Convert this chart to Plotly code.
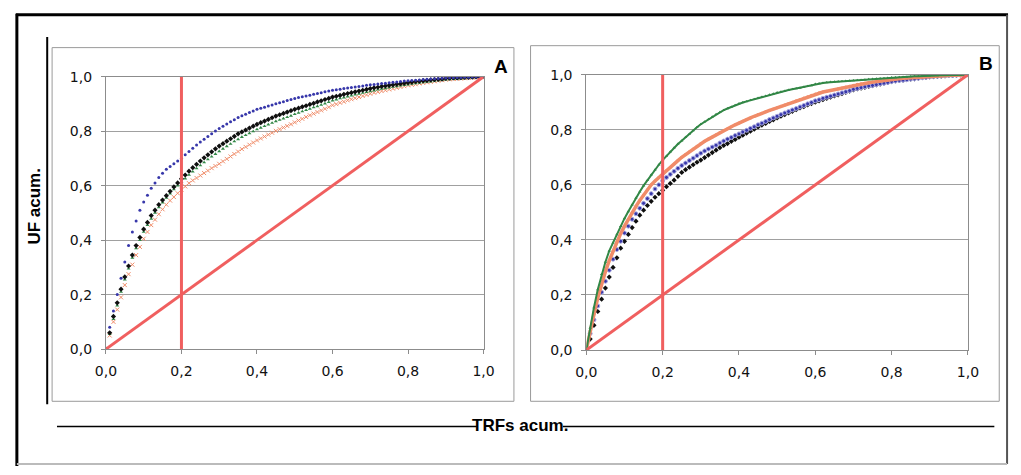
import plotly.graph_objects as go

# Cumulative TRFs fraction (x) shared by all curves
trf_acum = [0.00, 0.01, 0.02, 0.03, 0.04, 0.05, 0.06, 0.07, 0.08, 0.09,
            0.10, 0.11, 0.12, 0.13, 0.14, 0.15, 0.16, 0.17, 0.18, 0.19,
            0.20, 0.21, 0.22, 0.23, 0.24, 0.25, 0.26, 0.27, 0.28, 0.29,
            0.30, 0.31, 0.32, 0.33, 0.34, 0.35, 0.36, 0.37, 0.38, 0.39,
            0.40, 0.41, 0.42, 0.43, 0.44, 0.45, 0.46, 0.47, 0.48, 0.49,
            0.50, 0.51, 0.52, 0.53, 0.54, 0.55, 0.56, 0.57, 0.58, 0.59,
            0.60, 0.61, 0.62, 0.63, 0.64, 0.65, 0.66, 0.67, 0.68, 0.69,
            0.70, 0.71, 0.72, 0.73, 0.74, 0.75, 0.76, 0.77, 0.78, 0.79,
            0.80, 0.81, 0.82, 0.83, 0.84, 0.85, 0.86, 0.87, 0.88, 0.89,
            0.90, 0.91, 0.92, 0.93, 0.94, 0.95, 0.96, 0.97, 0.98, 0.99, 1.00]

# ---- Panel A (cumulative UF) ----
a_blue = [0, .08, .14, .20, .26, .32, .38, .43, .47, .51,
          .54, .565, .59, .61, .63, .645, .66, .67, .68, .69,
          .70, .713, .725, .737, .749, .76, .77, .78, .79, .80,
          .81, .818, .826, .834, .842, .85, .856, .862, .868, .874,
          .88, .884, .888, .892, .896, .90, .904, .908, .912, .916,
          .92, .923, .926, .929, .932, .935, .938, .941, .944, .947,
          .95, .952, .954, .956, .958, .960, .962, .964, .966, .968,
          .97, .9715, .973, .9745, .976, .9775, .979, .9805, .982, .9835,
          .985, .986, .987, .988, .989, .990, .991, .992, .993, .994,
          .995, .9955, .996, .9965, .997, .9975, .998, .9985, .999, .9995, 1.0]
a_black = [0, .06, .12, .17, .22, .265, .305, .345, .38, .41,
           .44, .465, .49, .51, .53, .547, .563, .579, .595, .61,
           .625, .639, .653, .666, .678, .69, .702, .713, .724, .735,
           .745, .754, .763, .772, .781, .79, .797, .804, .811, .818,
           .825, .831, .837, .843, .849, .855, .86, .865, .87, .875,
           .88, .884, .889, .893, .898, .902, .907, .911, .916, .920,
           .925, .928, .931, .935, .938, .941, .944, .947, .950, .953,
           .956, .959, .961, .964, .966, .968, .970, .972, .974, .976,
           .978, .980, .982, .983, .985, .986, .988, .989, .990, .991,
           .993, .994, .995, .995, .996, .997, .997, .998, .999, .999, 1.0]
a_green = [0, .055, .11, .16, .21, .255, .295, .335, .37, .40,
           .43, .455, .478, .50, .52, .538, .555, .571, .586, .60,
           .613, .626, .639, .651, .663, .674, .685, .696, .706, .716,
           .726, .735, .744, .753, .762, .77, .778, .785, .792, .799,
           .806, .812, .818, .824, .830, .836, .841, .846, .851, .856,
           .862, .867, .872, .877, .882, .887, .891, .896, .901, .906,
           .912, .916, .920, .923, .927, .930, .934, .937, .940, .943,
           .946, .949, .952, .955, .957, .960, .962, .964, .967, .969,
           .971, .973, .975, .977, .979, .981, .982, .984, .986, .987,
           .989, .990, .991, .992, .993, .994, .995, .996, .997, .998, 1.0]
a_orange = [0, .05, .10, .145, .19, .235, .275, .31, .345, .375,
            .405, .43, .455, .475, .495, .513, .53, .545, .558, .572,
            .585, .597, .609, .619, .628, .637, .646, .655, .664, .672,
            .68, .689, .698, .707, .716, .725, .734, .742, .750, .758,
            .766, .773, .780, .787, .794, .801, .807, .813, .819, .825,
            .832, .839, .845, .852, .858, .864, .870, .876, .882, .888,
            .895, .899, .904, .908, .913, .917, .921, .925, .929, .933,
            .937, .941, .944, .947, .950, .953, .956, .959, .962, .965,
            .968, .970, .972, .975, .977, .979, .981, .983, .985, .987,
            .989, .990, .991, .992, .993, .994, .995, .996, .997, .998, 1.0]

# ---- Panel B (cumulative UF) ----
b_green = [0, .08, .155, .22, .275, .32, .36, .39, .42, .45,
           .478, .503, .528, .552, .575, .597, .617, .637, .655, .673,
           .69, .705, .72, .735, .748, .76, .773, .785, .797, .809,
           .82, .829, .838, .847, .856, .864, .871, .877, .883, .889,
           .895, .899, .903, .907, .911, .915, .919, .923, .927, .931,
           .935, .938, .941, .944, .947, .950, .952, .955, .958, .961,
           .966, .968, .970, .972, .973, .974, .975, .976, .977, .978,
           .979, .980, .981, .982, .983, .984, .985, .986, .987, .988,
           .99, .990, .991, .992, .992, .993, .994, .994, .995, .996,
           .996, .997, .997, .998, .998, .998, .999, .999, .999, 1.0, 1.0]
b_orange = [0, .07, .13, .19, .24, .285, .325, .36, .393, .423,
            .45, .475, .50, .522, .543, .563, .582, .60, .614, .627,
            .64, .652, .664, .676, .688, .70, .71, .72, .73, .74,
            .75, .758, .766, .774, .782, .79, .797, .804, .811, .818,
            .825, .831, .837, .843, .849, .855, .86, .865, .87, .875,
            .88, .885, .890, .895, .900, .905, .910, .915, .920, .925,
            .93, .934, .937, .940, .943, .946, .949, .952, .955, .958,
            .962, .965, .967, .969, .971, .973, .975, .977, .979, .981,
            .984, .985, .986, .987, .988, .989, .990, .991, .992, .993,
            .995, .995, .996, .996, .997, .997, .998, .998, .999, .999, 1.0]
b_blue = [0, .06, .11, .16, .21, .25, .29, .33, .365, .395,
          .425, .45, .475, .495, .515, .533, .55, .568, .585, .60,
          .615, .627, .638, .649, .66, .67, .679, .688, .697, .706,
          .715, .723, .730, .737, .744, .752, .759, .766, .772, .779,
          .785, .792, .798, .805, .811, .818, .824, .830, .837, .843,
          .849, .855, .861, .866, .872, .877, .883, .888, .894, .899,
          .905, .909, .914, .918, .922, .926, .930, .934, .938, .942,
          .947, .950, .953, .956, .959, .961, .964, .967, .969, .972,
          .975, .977, .979, .980, .982, .984, .985, .987, .989, .990,
          .992, .993, .994, .995, .996, .997, .997, .998, .999, .999, 1.0]
b_black = [0, .04, .09, .14, .185, .225, .265, .30, .335, .37,
           .395, .42, .445, .468, .49, .508, .525, .54, .555, .568,
           .58, .593, .605, .617, .631, .645, .655, .664, .673, .682,
           .69, .699, .708, .717, .726, .735, .743, .750, .758, .765,
           .773, .780, .788, .795, .802, .81, .817, .823, .830, .836,
           .843, .849, .855, .861, .867, .873, .879, .884, .890, .895,
           .90, .905, .909, .914, .918, .923, .927, .931, .936, .940,
           .945, .948, .951, .954, .957, .960, .963, .966, .969, .972,
           .975, .977, .979, .980, .982, .984, .985, .987, .989, .990,
           .992, .993, .994, .995, .996, .997, .997, .998, .999, .999, 1.0]

# Reference lines: equality diagonal and the 20 % TRFs cut
diag_x = [0.0, 1.0]
diag_y = [0.0, 1.0]
cut_x = [0.2, 0.2]
cut_y = [0.0, 1.01]

tick_vals = [0.0, 0.2, 0.4, 0.6, 0.8, 1.0]
tick_text = ["0,0", "0,2", "0,4", "0,6", "0,8", "1,0"]
panel_labels = ["A", "B"]
x_title = "TRFs acum."
y_title = "UF acum."

W, H = 1021, 475
RED = "rgb(240,95,95)"
BLUE = "rgb(55,55,170)"
GREEN = "rgb(50,135,70)"
ORANGE = "rgb(240,140,105)"
BLACK = "rgb(15,15,15)"

fig = go.Figure()


def px_x(p):
    return p / W


def px_y(p):
    return 1 - p / H


# Panel A traces
fig.add_trace(go.Scatter(x=trf_acum, y=a_orange, mode="markers", xaxis="x", yaxis="y",
                         marker=dict(symbol="x-thin", size=4, line=dict(color=ORANGE, width=1), color=ORANGE)))
fig.add_trace(go.Scatter(x=trf_acum, y=a_green, mode="markers", xaxis="x", yaxis="y",
                         marker=dict(symbol="triangle-up", size=3.5, color=GREEN)))
fig.add_trace(go.Scatter(x=trf_acum, y=a_black, mode="markers", xaxis="x", yaxis="y",
                         marker=dict(symbol="diamond", size=4, color=BLACK)))
fig.add_trace(go.Scatter(x=trf_acum, y=a_blue, mode="markers", xaxis="x", yaxis="y",
                         marker=dict(symbol="circle", size=3, color=BLUE)))
fig.add_trace(go.Scatter(x=cut_x, y=cut_y, mode="lines", xaxis="x", yaxis="y",
                         line=dict(color=RED, width=3), cliponaxis=False))
fig.add_trace(go.Scatter(x=diag_x, y=diag_y, mode="lines", xaxis="x", yaxis="y",
                         line=dict(color=RED, width=3), cliponaxis=False))

# Panel B traces
fig.add_trace(go.Scatter(x=trf_acum, y=b_black, mode="markers", xaxis="x2", yaxis="y2",
                         marker=dict(symbol="diamond", size=4, color=BLACK)))
fig.add_trace(go.Scatter(x=trf_acum, y=b_blue, mode="markers", xaxis="x2", yaxis="y2",
                         marker=dict(symbol="circle", size=4, color=BLUE,
                                     line=dict(color="rgb(170,170,225)", width=1))))
fig.add_trace(go.Scatter(x=trf_acum, y=b_orange, mode="lines+markers", xaxis="x2", yaxis="y2",
                         line=dict(color=ORANGE, width=3.5),
                         marker=dict(symbol="circle", size=3, color=ORANGE)))
fig.add_trace(go.Scatter(x=trf_acum, y=b_green, mode="lines+markers", xaxis="x2", yaxis="y2",
                         line=dict(color=GREEN, width=2),
                         marker=dict(symbol="triangle-up", size=3, color=GREEN)))
fig.add_trace(go.Scatter(x=cut_x, y=cut_y, mode="lines", xaxis="x2", yaxis="y2",
                         line=dict(color=RED, width=3), cliponaxis=False))
fig.add_trace(go.Scatter(x=diag_x, y=diag_y, mode="lines", xaxis="x2", yaxis="y2",
                         line=dict(color=RED, width=3), cliponaxis=False))

tick_font = dict(family="DejaVu Sans, Verdana", size=14, color="#111")
axis_common = dict(range=[0, 1], tickvals=tick_vals, ticktext=tick_text, tickfont=tick_font,
                   showline=True, linecolor="#8c8c8c", linewidth=1, mirror=True,
                   ticks="outside", ticklen=4, tickcolor="#8c8c8c", zeroline=False, fixedrange=True)

fig.update_layout(
    width=W, height=H, autosize=False,
    margin=dict(l=0, r=0, t=0, b=0),
    paper_bgcolor="white", plot_bgcolor="white",
    showlegend=False,
    xaxis=dict(domain=[px_x(97), px_x(483)], anchor="y", showgrid=False, ticklabelstandoff=5,
               **axis_common),
    yaxis=dict(domain=[px_y(353), px_y(71)], anchor="x", showgrid=True, gridcolor="#a0a0a0",
               gridwidth=1, ticklabelstandoff=6, **axis_common),
    xaxis2=dict(domain=[px_x(588), px_x(978)], anchor="y2", showgrid=False, ticklabelstandoff=5,
                **axis_common),
    yaxis2=dict(domain=[px_y(354), px_y(69)], anchor="x2", showgrid=True, gridcolor="#a0a0a0",
                gridwidth=1, ticklabelstandoff=6, **axis_common),
)

shapes = []
# outer frame
shapes.append(dict(type="line", xref="paper", yref="paper", x0=px_x(6), x1=px_x(6), y0=px_y(6), y1=px_y(474),
                   line=dict(color="black", width=3)))
shapes.append(dict(type="line", xref="paper", yref="paper", x0=px_x(5), x1=px_x(1019), y0=px_y(7), y1=px_y(7),
                   line=dict(color="black", width=3)))
shapes.append(dict(type="line", xref="paper", yref="paper", x0=px_x(1018), x1=px_x(1018), y0=px_y(7), y1=px_y(472),
                   line=dict(color="#555", width=2)))
shapes.append(dict(type="line", xref="paper", yref="paper", x0=px_x(6), x1=px_x(1018), y0=px_y(472), y1=px_y(472),
                   line=dict(color="#bbb", width=2)))
# panel boxes
shapes.append(dict(type="rect", xref="paper", yref="paper", x0=px_x(42), x1=px_x(514), y0=px_y(407), y1=px_y(41),
                   line=dict(color="#9a9a9a", width=1)))
shapes.append(dict(type="rect", xref="paper", yref="paper", x0=px_x(531), x1=px_x(1010), y0=px_y(407), y1=px_y(39),
                   line=dict(color="#9a9a9a", width=1)))
# y title rule
shapes.append(dict(type="line", xref="paper", yref="paper", x0=px_x(37), x1=px_x(37), y0=px_y(30), y1=px_y(410),
                   line=dict(color="black", width=2)))
# x title rules
shapes.append(dict(type="line", xref="paper", yref="paper", x0=px_x(47), x1=px_x(476), y0=px_y(433), y1=px_y(433),
                   line=dict(color="black", width=1.5)))
shapes.append(dict(type="line", xref="paper", yref="paper", x0=px_x(564), x1=px_x(1005), y0=px_y(433), y1=px_y(433),
                   line=dict(color="black", width=1.5)))
fig.update_layout(shapes=shapes)

annotations = [
    dict(text="<b>" + panel_labels[0] + "</b>", x=px_x(501), y=px_y(61), xref="paper", yref="paper",
         showarrow=False, font=dict(family="Liberation Sans, Arial", size=19, color="black"),
         xanchor="center", yanchor="middle"),
    dict(text="<b>" + panel_labels[1] + "</b>", x=px_x(996), y=px_y(57), xref="paper", yref="paper",
         showarrow=False, font=dict(family="Liberation Sans, Arial", size=19, color="black"),
         xanchor="center", yanchor="middle"),
    dict(text="<b>" + y_title + "</b>", x=px_x(24), y=px_y(205), xref="paper", yref="paper", showarrow=False,
         textangle=-90, font=dict(family="Liberation Sans, Arial", size=17, color="black"),
         xanchor="center", yanchor="middle"),
    dict(text="<b>" + x_title + "</b>", x=px_x(520), y=px_y(432), xref="paper", yref="paper", showarrow=False,
         font=dict(family="Liberation Sans Narrow, Arial Narrow, Liberation Sans", size=17, color="black"),
         xanchor="center", yanchor="middle"),
]
fig.update_layout(annotations=annotations)

page_fix = ("document.documentElement.style.margin='0';document.documentElement.style.padding='0';"
            "document.body.style.margin='0';document.body.style.padding='0';"
            "document.body.style.overflow='hidden';document.documentElement.style.overflow='hidden';")
fig.write_html("out.html", config={"displayModeBar": False}, post_script=page_fix)
